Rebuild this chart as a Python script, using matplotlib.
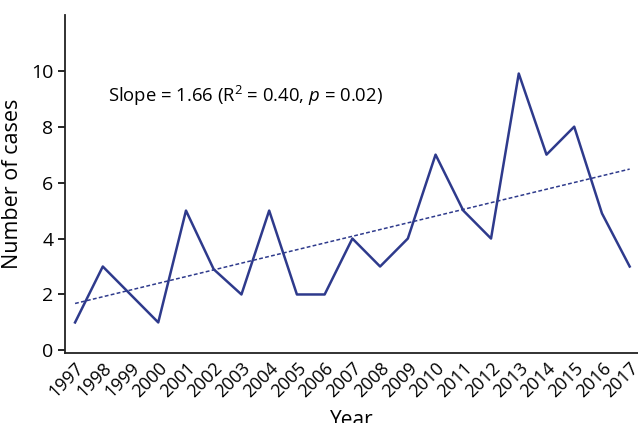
import numpy as np
import matplotlib.pyplot as plt

plt.rcParams['font.family'] = ['Open Sans', 'DejaVu Sans']
plt.rcParams['mathtext.fontset'] = 'custom'
plt.rcParams['mathtext.rm'] = 'Open Sans'
plt.rcParams['mathtext.it'] = 'Open Sans:italic'

years = np.arange(1997, 2018)
cases = [1, 3, 2, 1, 5, 2.9, 2, 5, 2, 2, 4, 3, 4, 7, 5, 4, 9.9, 7, 8, 4.9, 3]

# linear trend
coef = np.polyfit(years, cases, 1)
trend = np.polyval(coef, years)

fig = plt.figure(figsize=(6.38, 4.23), dpi=100)
ax = fig.add_axes([0.102, 0.165, 0.898, 0.8])

ax.plot(years, cases, color='#2e3a8c', lw=1.8)
ax.plot(years, trend, color='#2e3a8c', lw=1.1, ls=(0, (2.5, 1.5)))

ax.set_xlim(1996.64, 2017.3)
ax.set_ylim(-0.1, 12)
ax.set_yticks([0, 2, 4, 6, 8, 10])
ax.set_xticks(years)
ax.set_xticklabels([str(y) for y in years], rotation=45, ha='right',
                   rotation_mode='anchor', fontsize=13)
ax.tick_params(axis='x', length=0, pad=4)
ax.tick_params(axis='y', labelsize=14, length=5, width=1.2)

for s in ['top', 'right']:
    ax.spines[s].set_visible(False)
for s in ['left', 'bottom']:
    ax.spines[s].set_linewidth(1.3)
    ax.spines[s].set_color('#222222')

ax.set_ylabel('Number of cases', fontsize=15.5, labelpad=6)
ax.set_xlabel('Year', fontsize=15)
ax.xaxis.set_label_coords(0.5, -0.168)

ax.text(1998.2, 8.9, r'Slope = 1.66 (R$^{2}$ = 0.40, $\mathit{p}$ = 0.02)', fontsize=13.3)

fig.savefig('out.png', dpi=100)
